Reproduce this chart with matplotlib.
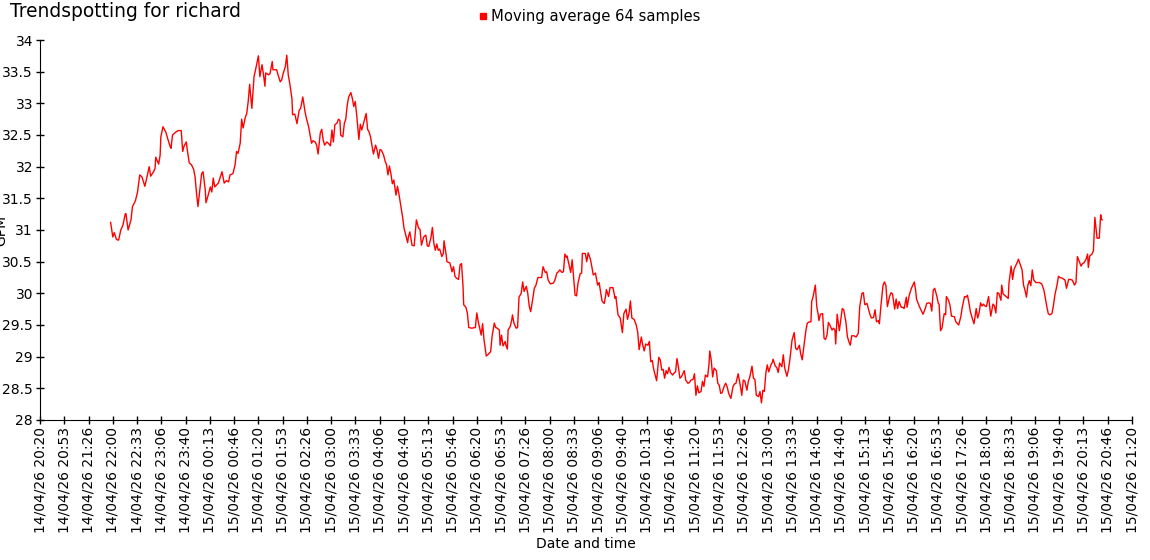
import matplotlib
matplotlib.use('Agg')
import matplotlib.pyplot as plt
from matplotlib.lines import Line2D
from matplotlib.ticker import FormatStrFormatter
import numpy as np
import pandas as pd

# Moving average (64 samples)
times_14 = [
    '21:57', '22:00', '22:02', '22:05', '22:08', '22:11', '22:14', '22:17', '22:18', '22:21',
    '22:25', '22:27', '22:31', '22:34', '22:37', '22:40', '22:44', '22:47', '22:50', '22:52',
    '22:56', '22:58', '22:59', '23:03', '23:05', '23:06', '23:09', '23:13', '23:16', '23:19',
    '23:20', '23:22', '23:27', '23:30', '23:34', '23:36', '23:38', '23:41', '23:42', '23:45',
    '23:48', '23:51', '23:53', '23:55', '23:57',
]
values_14 = [
    31.12, 30.89, 30.96, 30.85, 30.84, 31.00, 31.08, 31.25, 31.26, 31.00,
    31.16, 31.37, 31.46, 31.60, 31.87, 31.84, 31.69, 31.84, 32.00, 31.85,
    31.92, 31.97, 32.15, 32.04, 32.18, 32.47, 32.63, 32.54, 32.42, 32.31,
    32.29, 32.50, 32.55, 32.57, 32.57, 32.24, 32.33, 32.39, 32.29, 32.06,
    32.03, 31.96, 31.84, 31.58, 31.37,
]

times_15 = [
    '00:00', '00:02', '00:04', '00:07', '00:08', '00:11', '00:14', '00:16', '00:18', '00:20',
    '00:25', '00:28', '00:30', '00:33', '00:36', '00:39', '00:41', '00:45', '00:48', '00:50',
    '00:52', '00:55', '00:57', '00:59', '01:02', '01:04', '01:06', '01:08', '01:11', '01:14',
    '01:17', '01:20', '01:22', '01:25', '01:27', '01:29', '01:30', '01:34', '01:36', '01:39',
    '01:40', '01:45', '01:47', '01:50', '01:52', '01:54', '01:57', '01:59', '02:01', '02:03',
    '02:06', '02:07', '02:10', '02:13', '02:16', '02:18', '02:21', '02:24', '02:26', '02:29',
    '02:31', '02:33', '02:35', '02:38', '02:40', '02:42', '02:45', '02:47', '02:49', '02:51',
    '02:54', '02:56', '02:59', '03:01', '03:03', '03:05', '03:08', '03:10', '03:12', '03:13',
    '03:16', '03:18', '03:20', '03:22', '03:24', '03:27', '03:29', '03:31', '03:33', '03:35',
    '03:38', '03:40', '03:42', '03:45', '03:48', '03:50', '03:52', '03:54', '03:58', '04:01',
    '04:03', '04:05', '04:07', '04:09', '04:12', '04:14', '04:16', '04:18', '04:20', '04:22',
    '04:24', '04:26', '04:29', '04:31', '04:33', '04:35', '04:38', '04:40', '04:43', '04:45',
    '04:46', '04:48', '04:51', '04:54', '04:57', '05:00', '05:02', '05:04', '05:07', '05:10',
    '05:12', '05:14', '05:17', '05:19', '05:21', '05:23', '05:25', '05:27', '05:29', '05:32',
    '05:34', '05:35', '05:38', '05:39', '05:43', '05:46', '05:48', '05:50', '05:52', '05:55',
    '05:57', '05:59', '06:01', '06:02', '06:05', '06:07', '06:09', '06:13', '06:18', '06:20',
    '06:22', '06:24', '06:26', '06:28', '06:30', '06:33', '06:36', '06:39', '06:41', '06:44',
    '06:46', '06:48', '06:51', '06:52', '06:54', '06:56', '06:59', '07:00', '07:02', '07:03',
    '07:06', '07:08', '07:09', '07:11', '07:14', '07:16', '07:18', '07:21', '07:23', '07:25',
    '07:28', '07:30', '07:32', '07:34', '07:37', '07:39', '07:41', '07:44', '07:47', '07:49',
    '07:51', '07:54', '07:56', '07:58', '08:01', '08:05', '08:07', '08:10', '08:12', '08:14',
    '08:17', '08:19', '08:21', '08:23', '08:24', '08:27', '08:29', '08:31', '08:33', '08:35',
    '08:37', '08:39', '08:42', '08:44', '08:45', '08:49', '08:51', '08:53', '08:56', '08:58',
    '09:00', '09:03', '09:06', '09:08', '09:10', '09:12', '09:15', '09:17', '09:18', '09:21',
    '09:23', '09:27', '09:30', '09:31', '09:34', '09:37', '09:40', '09:42', '09:45', '09:47',
    '09:49', '09:51', '09:53', '09:56', '09:59', '10:01', '10:03', '10:06', '10:08', '10:10',
    '10:12', '10:15', '10:17', '10:19', '10:21', '10:23', '10:27', '10:30', '10:32', '10:34',
    '10:36', '10:38', '10:40', '10:42', '10:44', '10:46', '10:49', '10:51', '10:53', '10:55',
    '10:57', '10:59', '11:01', '11:05', '11:07', '11:10', '11:12', '11:14', '11:17', '11:19',
    '11:21', '11:23', '11:25', '11:28', '11:30', '11:32', '11:34', '11:37', '11:39', '11:40',
    '11:42', '11:44', '11:46', '11:49', '11:51', '11:53', '11:55', '11:57', '12:00', '12:02',
    '12:04', '12:06', '12:09', '12:12', '12:14', '12:16', '12:19', '12:22', '12:24', '12:26',
    '12:28', '12:31', '12:33', '12:35', '12:38', '12:40', '12:42', '12:44', '12:47', '12:49',
    '12:51', '12:53', '12:55', '12:57', '12:59', '13:01', '13:04', '13:06', '13:07', '13:10',
    '13:12', '13:14', '13:16', '13:19', '13:21', '13:23', '13:26', '13:28', '13:30', '13:33',
    '13:36', '13:38', '13:40', '13:43', '13:45', '13:47', '13:49', '13:52', '13:54', '13:57',
    '13:59', '14:00', '14:02', '14:05', '14:07', '14:09', '14:10', '14:12', '14:15', '14:17',
    '14:19', '14:21', '14:23', '14:25', '14:28', '14:30', '14:32', '14:33', '14:35', '14:38',
    '14:40', '14:42', '14:44', '14:47', '14:49', '14:51', '14:53', '14:55', '14:58', '15:01',
    '15:04', '15:06', '15:09', '15:11', '15:13', '15:16', '15:18', '15:20', '15:22', '15:25',
    '15:27', '15:29', '15:32', '15:33', '15:35', '15:38', '15:40', '15:42', '15:44', '15:47',
    '15:49', '15:51', '15:54', '15:56', '15:58', '16:00', '16:03', '16:05', '16:07', '16:10',
    '16:11', '16:14', '16:17', '16:21', '16:23', '16:24', '16:28', '16:33', '16:36', '16:38',
    '16:41', '16:43', '16:45', '16:47', '16:49', '16:52', '16:54', '16:55', '16:57', '16:59',
    '17:02', '17:04', '17:05', '17:08', '17:10', '17:12', '17:16', '17:18', '17:22', '17:25',
    '17:27', '17:30', '17:32', '17:34', '17:36', '17:38', '17:41', '17:43', '17:46', '17:48',
    '17:50', '17:52', '17:54', '17:56', '17:58', '18:00', '18:03', '18:04', '18:06', '18:09',
    '18:11', '18:13', '18:15', '18:17', '18:20', '18:21', '18:23', '18:26', '18:28', '18:30',
    '18:31', '18:34', '18:36', '18:38', '18:40', '18:42', '18:44', '18:46', '18:49', '18:51',
    '18:53', '18:55', '18:57', '18:59', '19:01', '19:03', '19:05', '19:08', '19:10', '19:13',
    '19:16', '19:19', '19:21', '19:23', '19:25', '19:27', '19:30', '19:32', '19:34', '19:37',
    '19:39', '19:41', '19:44', '19:48', '19:50', '19:53', '19:55', '19:58', '20:01', '20:03',
    '20:05', '20:07', '20:10', '20:12', '20:14', '20:17', '20:19', '20:20', '20:22', '20:25',
    '20:27', '20:29', '20:32', '20:35', '20:37', '20:38', '20:39',
]
values_15 = [
    31.68, 31.89, 31.92, 31.63, 31.43, 31.55, 31.68, 31.60, 31.82, 31.68,
    31.74, 31.85, 31.92, 31.74, 31.78, 31.76, 31.87, 31.89, 32.03, 32.24,
    32.21, 32.37, 32.75, 32.61, 32.78, 32.84, 33.03, 33.30, 32.92, 33.42,
    33.58, 33.75, 33.42, 33.61, 33.45, 33.27, 33.48, 33.45, 33.47, 33.66,
    33.53, 33.53, 33.45, 33.34, 33.37, 33.47, 33.58, 33.76, 33.45, 33.32,
    33.08, 32.82, 32.83, 32.68, 32.89, 32.92, 33.10, 32.87, 32.76, 32.63,
    32.50, 32.37, 32.41, 32.39, 32.34, 32.20, 32.53, 32.59, 32.42, 32.34,
    32.39, 32.37, 32.33, 32.58, 32.39, 32.66, 32.69, 32.75, 32.73, 32.50,
    32.47, 32.68, 32.75, 32.97, 33.10, 33.17, 33.08, 32.95, 33.03, 32.82,
    32.43, 32.67, 32.58, 32.71, 32.84, 32.59, 32.55, 32.47, 32.20, 32.34,
    32.26, 32.13, 32.27, 32.26, 32.18, 32.09, 32.03, 31.87, 32.01, 31.89,
    31.73, 31.79, 31.55, 31.69, 31.57, 31.43, 31.21, 31.03, 30.89, 30.80,
    30.89, 30.97, 30.76, 30.75, 31.16, 31.03, 31.01, 30.76, 30.89, 30.92,
    30.75, 30.74, 30.88, 31.04, 30.79, 30.68, 30.78, 30.68, 30.70, 30.58,
    30.63, 30.83, 30.60, 30.50, 30.48, 30.34, 30.42, 30.27, 30.24, 30.22,
    30.45, 30.47, 30.13, 29.82, 29.78, 29.69, 29.46, 29.45, 29.46, 29.69,
    29.55, 29.45, 29.34, 29.52, 29.26, 29.01, 29.04, 29.08, 29.32, 29.53,
    29.46, 29.45, 29.42, 29.18, 29.34, 29.17, 29.24, 29.18, 29.12, 29.42,
    29.48, 29.58, 29.66, 29.53, 29.45, 29.46, 29.94, 30.00, 30.18, 30.03,
    30.11, 30.00, 29.80, 29.71, 29.92, 30.08, 30.12, 30.25, 30.25, 30.25,
    30.42, 30.33, 30.34, 30.21, 30.15, 30.16, 30.20, 30.32, 30.34, 30.37,
    30.33, 30.34, 30.62, 30.57, 30.59, 30.43, 30.33, 30.53, 30.26, 29.97,
    29.96, 30.16, 30.31, 30.32, 30.63, 30.63, 30.50, 30.64, 30.54, 30.42,
    30.29, 30.32, 30.13, 30.17, 30.03, 29.88, 29.84, 29.96, 30.06, 29.95,
    30.09, 30.09, 29.92, 29.95, 29.66, 29.61, 29.38, 29.68, 29.75, 29.59,
    29.68, 29.88, 29.61, 29.59, 29.50, 29.39, 29.11, 29.31, 29.18, 29.09,
    29.20, 29.18, 29.24, 28.92, 28.94, 28.80, 28.62, 28.99, 28.95, 28.79,
    28.80, 28.66, 28.78, 28.73, 28.83, 28.75, 28.71, 28.74, 28.76, 28.97,
    28.83, 28.66, 28.68, 28.78, 28.63, 28.58, 28.59, 28.63, 28.64, 28.73,
    28.39, 28.54, 28.43, 28.45, 28.61, 28.53, 28.71, 28.68, 28.89, 29.09,
    28.95, 28.68, 28.82, 28.78, 28.58, 28.55, 28.42, 28.43, 28.54, 28.58,
    28.52, 28.42, 28.34, 28.53, 28.57, 28.58, 28.73, 28.54, 28.39, 28.63,
    28.62, 28.47, 28.61, 28.68, 28.85, 28.66, 28.64, 28.39, 28.37, 28.45,
    28.27, 28.47, 28.45, 28.74, 28.87, 28.76, 28.87, 28.91, 28.96, 28.85,
    28.83, 28.75, 28.90, 28.84, 29.03, 28.82, 28.69, 28.79, 28.95, 29.26,
    29.38, 29.13, 29.11, 29.18, 29.04, 28.95, 29.13, 29.41, 29.53, 29.55,
    29.55, 29.87, 29.95, 30.13, 29.79, 29.66, 29.57, 29.67, 29.68, 29.29,
    29.27, 29.34, 29.54, 29.50, 29.42, 29.45, 29.42, 29.20, 29.67, 29.41,
    29.58, 29.76, 29.74, 29.55, 29.32, 29.24, 29.18, 29.33, 29.33, 29.31,
    29.37, 29.79, 30.00, 30.01, 29.82, 29.84, 29.75, 29.67, 29.61, 29.62,
    29.74, 29.55, 29.57, 29.52, 29.79, 30.13, 30.18, 30.12, 29.79, 29.95,
    30.01, 29.99, 29.75, 29.91, 29.76, 29.87, 29.78, 29.78, 29.76, 29.94,
    29.78, 29.97, 30.08, 30.18, 30.03, 29.91, 29.79, 29.67, 29.76, 29.84,
    29.85, 29.84, 29.72, 30.05, 30.08, 29.95, 29.84, 29.83, 29.41, 29.45,
    29.68, 29.66, 29.95, 29.89, 29.81, 29.64, 29.63, 29.55, 29.50, 29.64,
    29.79, 29.95, 29.94, 29.97, 29.85, 29.71, 29.59, 29.52, 29.76, 29.61,
    29.69, 29.85, 29.80, 29.83, 29.80, 29.79, 29.95, 29.84, 29.64, 29.83,
    29.80, 29.69, 30.01, 30.00, 29.89, 30.13, 29.99, 29.96, 29.94, 29.92,
    30.16, 30.43, 30.22, 30.38, 30.43, 30.48, 30.54, 30.47, 30.37, 30.13,
    30.05, 29.94, 30.13, 30.20, 30.12, 30.37, 30.21, 30.17, 30.17, 30.17,
    30.15, 30.05, 29.92, 29.79, 29.68, 29.66, 29.68, 29.80, 29.97, 30.13,
    30.27, 30.25, 30.24, 30.21, 30.08, 30.22, 30.22, 30.21, 30.13, 30.17,
    30.58, 30.52, 30.43, 30.47, 30.48, 30.54, 30.62, 30.41, 30.59, 30.62,
    30.67, 31.20, 30.87, 30.87, 31.24, 31.17, 31.16,
]

assert len(times_14) == len(values_14)
assert len(times_15) == len(values_15)

x = pd.to_datetime(['2026-04-14 ' + t for t in times_14] +
                   ['2026-04-15 ' + t for t in times_15])
y = values_14 + values_15

start = pd.Timestamp('2026-04-14 20:20')
end = pd.Timestamp('2026-04-15 21:20')
ticks = pd.date_range(start, end, periods=46)

fig = plt.figure(figsize=(11.5, 5.6), dpi=100)
ax = fig.add_axes([40 / 1150, 140 / 560, 1092 / 1150, 380 / 560])
ax.plot(x, y, color='#ff0000', lw=1)

ax.set_xlim(start, end)
ax.set_ylim(28, 34)
ax.set_yticks(np.arange(28, 34.01, 0.5))
ax.yaxis.set_major_formatter(FormatStrFormatter('%g'))
ax.set_xticks(ticks)
ax.set_xticklabels([t.strftime('%d/%m/%y %H:%M') for t in ticks], rotation=90)

ax.spines['top'].set_visible(False)
ax.spines['right'].set_visible(False)
ax.tick_params(direction='inout', length=6, width=1, labelsize=10, pad=2)

ax.set_xlabel('Date and time', fontsize=10, labelpad=3)
# y label hugs the left edge, as in the original
ax.set_ylabel('GPM', fontsize=10)
ax.yaxis.set_label_coords(-0.029, 0.5)

fig.text(10 / 1150, 1 - 17 / 560, 'Trendspotting for richard', fontsize=13.4, va='baseline')

handle = Line2D([], [], marker='s', color='#ff0000', linestyle='None', markersize=5)
fig.legend(handles=[handle], labels=['Moving average 64 samples'], loc='center',
           bbox_to_anchor=(590 / 1150, 1 - 17 / 560), frameon=False, fontsize=10.6,
           handlelength=0.5, handletextpad=0.3, borderpad=0)

fig.savefig('out.png', dpi=100)
